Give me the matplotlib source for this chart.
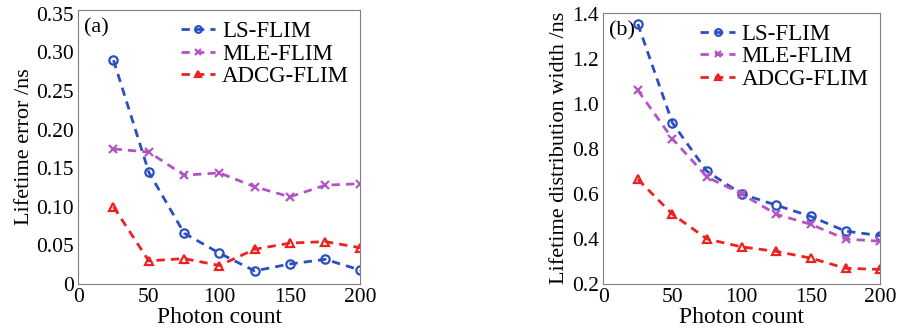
import matplotlib.pyplot as plt

plt.rcParams['font.family'] = ['Liberation Serif', 'DejaVu Serif']

photons = [25, 50, 75, 100, 125, 150, 175, 200]

# (a) lifetime error
err_ls = [0.290, 0.145, 0.066, 0.040, 0.017, 0.026, 0.032, 0.018]
err_mle = [0.175, 0.171, 0.141, 0.144, 0.126, 0.113, 0.128, 0.130]
err_adcg = [0.100, 0.030, 0.033, 0.024, 0.045, 0.053, 0.055, 0.047]

# (b) lifetime distribution width
wid_ls = [1.355, 0.915, 0.700, 0.600, 0.550, 0.500, 0.435, 0.415]
wid_mle = [1.060, 0.845, 0.675, 0.600, 0.510, 0.465, 0.400, 0.390]
wid_adcg = [0.665, 0.510, 0.400, 0.365, 0.345, 0.315, 0.270, 0.265]

names = ['LS-FLIM', 'MLE-FLIM', 'ADCG-FLIM']
colors = ['#2b4fc2', '#b354c4', '#ec2222']
markers = ['o', 'x', '^']

fig = plt.figure(figsize=(8.99, 3.33), dpi=100)
ax1 = fig.add_axes([0.087, 0.147, 0.314, 0.823])
ax2 = fig.add_axes([0.671, 0.147, 0.308, 0.815])


def draw(ax, series, ylim, yticks, yticklabels, ylabel, tag):
    for vals, name, c, m in zip(series, names, colors, markers):
        ax.plot(photons, vals, linestyle=(0, (3, 2.2)), lw=2, color=c,
                marker=m, markersize=6, markerfacecolor='none',
                markeredgewidth=1.6, label=name)
    ax.set_xlim(0, 200)
    ax.set_ylim(*ylim)
    ax.set_xticks([0, 50, 100, 150, 200])
    ax.set_yticks(yticks)
    ax.set_yticklabels(yticklabels)
    ax.tick_params(length=0, labelsize=15.5, pad=3)
    for s in ax.spines.values():
        s.set_color('#7f7f7f')
    ax.set_xlabel('Photon count', fontsize=17, labelpad=0)
    ax.set_ylabel(ylabel, fontsize=16, labelpad=2)
    ax.text(0.02, 0.97, tag, transform=ax.transAxes, fontsize=16,
            va='top', ha='left')
    ax.legend(loc='upper right', frameon=False, fontsize=16.5,
              handlelength=1.5, handletextpad=0.3, labelspacing=0.05,
              borderaxespad=0.1, markerscale=0.8)


draw(ax1, [err_ls, err_mle, err_adcg], (0, 0.355),
     [0, 0.05, 0.10, 0.15, 0.20, 0.25, 0.30, 0.35],
     ['0', '0.05', '0.10', '0.15', '0.20', '0.25', '0.30', '0.35'],
     'Lifetime error /ns', '(a)')
draw(ax2, [wid_ls, wid_mle, wid_adcg], (0.2, 1.405),
     [0.2, 0.4, 0.6, 0.8, 1.0, 1.2, 1.4],
     ['0.2', '0.4', '0.6', '0.8', '1.0', '1.2', '1.4'],
     'Lifetime distribution width /ns', '(b)')

fig.savefig('out.png', dpi=100)
